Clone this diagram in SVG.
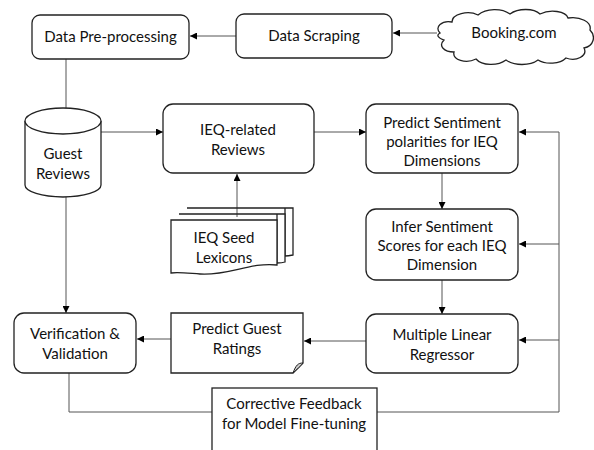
<svg xmlns="http://www.w3.org/2000/svg" width="594" height="450" viewBox="0 0 594 450">
<defs>
<marker id="ah" viewBox="0 0 10 10" refX="10" refY="5" markerWidth="7" markerHeight="7" orient="auto" markerUnits="userSpaceOnUse">
<path d="M0,0 L10,5 L0,10 Z" fill="#000"/>
</marker>
<style>
.box{fill:#fff;stroke:#222;stroke-width:1.3}
.c{fill:none;stroke:#555;stroke-width:1}
.a{fill:none;stroke:#555;stroke-width:1;marker-end:url(#ah)}
text{font-family:Lato,"Open Sans","Liberation Sans",sans-serif;font-size:15px;fill:#111;text-anchor:middle}
</style>
</defs>
<rect width="594" height="450" fill="#fff"/>
<g id="connectors">
<line class="a" x1="236" y1="36" x2="190" y2="36"/>
<line class="a" x1="437" y1="33" x2="393" y2="33"/>
<line class="a" x1="66" y1="59" x2="66" y2="120"/>
<line class="a" x1="101" y1="132" x2="163" y2="132"/>
<line class="a" x1="237" y1="217" x2="237" y2="174"/>
<line class="a" x1="314" y1="132" x2="366" y2="132"/>
<line class="a" x1="442" y1="173" x2="442" y2="209"/>
<line class="a" x1="442" y1="280" x2="442" y2="314"/>
<line class="a" x1="366" y1="341" x2="304" y2="341"/>
<line class="a" x1="171" y1="339" x2="137" y2="339"/>
<line class="a" x1="66" y1="197" x2="66" y2="313"/>
<polyline class="c" points="69,373 69,412 212,412"/>
<polyline class="c" points="377,412 559,412 559,132"/>
<line class="a" x1="559" y1="132" x2="519" y2="132"/>
<line class="a" x1="559" y1="244" x2="519" y2="244"/>
<line class="a" x1="559" y1="340" x2="519" y2="340"/>
</g>
<g id="data-preprocessing">
<rect class="box" x="32" y="15" width="157" height="44" rx="8"/>
<text x="110.5" y="42">Data Pre-processing</text>
</g>
<g id="data-scraping">
<rect class="box" x="236" y="14" width="156" height="44" rx="8"/>
<text x="314" y="41">Data Scraping</text>
</g>
<g id="booking">
<path class="box" d="M440,33 C434,27 442,20 452,22 C452,14 468,10 478,15 C486,8 502,8 510,14 C518,8 534,8 540,14 C550,9 566,11 568,18 C580,16 592,22 590,30 C596,36 594,46 584,48 C588,56 576,62 566,58 C560,64 546,65 538,60 C530,66 514,66 506,60 C498,66 482,66 476,59 C466,64 452,60 454,52 C444,52 438,46 444,40 C438,38 436,35 440,33 Z"/>
<text x="514" y="38">Booking.com</text>
</g>
<g id="guest-reviews">
<path class="box" d="M25,121 A38,13 0 0 1 101,121 L101,185 A38,12 0 0 1 25,185 Z"/>
<path class="box" d="M25,121 A38,13 0 0 0 101,121" fill="none"/>
<text x="63" y="159">Guest</text>
<text x="63" y="179">Reviews</text>
</g>
<g id="ieq-related-reviews">
<rect class="box" x="163" y="104" width="151" height="69" rx="10"/>
<text x="238" y="135">IEQ-related</text>
<text x="238" y="155">Reviews</text>
</g>
<g id="ieq-seed-lexicons">
<path class="box" d="M187,208 H293 V255 C288,256 286,256 285,256 L285,208 Z"/>
<path class="box" d="M179,214 H285 V262 C282,263 279,263 277,263 L277,214 Z"/>
<path class="box" d="M171,220 H277 V265 C250,262 228,276 200,274 C186,273 178,272 171,273 Z"/>
<text x="224" y="243">IEQ Seed</text>
<text x="224" y="263">Lexicons</text>
</g>
<g id="predict-sentiment">
<rect class="box" x="366" y="104" width="152" height="69" rx="10"/>
<text x="442" y="128">Predict Sentiment</text>
<text x="442" y="147">polarities for IEQ</text>
<text x="442" y="166">Dimensions</text>
</g>
<g id="infer-sentiment">
<rect class="box" x="366" y="209" width="152" height="71" rx="10"/>
<text x="442" y="232">Infer Sentiment</text>
<text x="442" y="251">Scores for each IEQ</text>
<text x="442" y="270">Dimension</text>
</g>
<g id="multiple-linear-regressor">
<rect class="box" x="366" y="314" width="152" height="59" rx="10"/>
<text x="442" y="340">Multiple Linear</text>
<text x="442" y="360">Regressor</text>
</g>
<g id="predict-guest-ratings">
<path class="box" d="M171,313 H303 V363 L293,373 H171 Z"/>
<path d="M303,363 C298,363 296,365 293,373 C297,369 300,367 303,363 Z" fill="#ccc" stroke="#222" stroke-width="1"/>
<text x="237" y="334">Predict Guest</text>
<text x="237" y="354">Ratings</text>
</g>
<g id="verification-validation">
<rect class="box" x="14" y="313" width="122" height="60" rx="10"/>
<text x="75" y="339">Verification &amp;</text>
<text x="75" y="359">Validation</text>
</g>
<g id="corrective-feedback">
<rect class="box" x="212" y="388" width="165" height="70" stroke="#555" stroke-width="1"/>
<text x="294" y="409">Corrective Feedback</text>
<text x="294" y="429">for Model Fine-tuning</text>
</g>
</svg>
